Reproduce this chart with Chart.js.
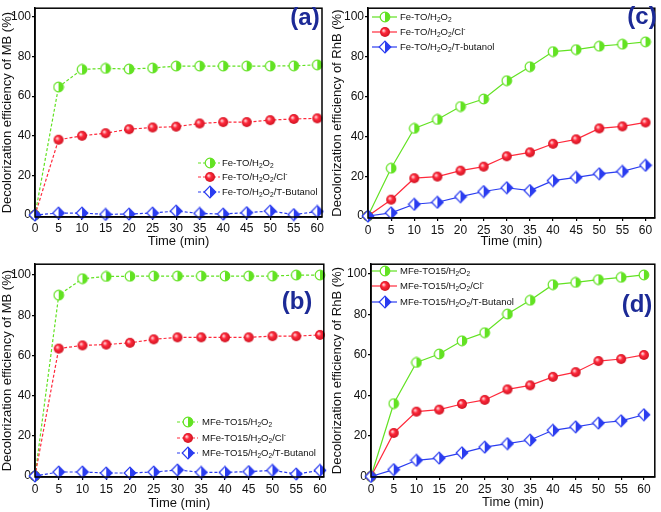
<!DOCTYPE html>
<html>
<head>
<meta charset="utf-8">
<script src="https://cdn.jsdelivr.net/npm/chart.js@4.4.1/dist/chart.umd.min.js"></script>
<style>
body { margin: 0; background: #fff; width: 661px; height: 512px; position: relative; overflow: hidden; }
canvas { position: absolute; }
</style>
</head>
<body>
<canvas id="pa" width="330" height="256" style="left:0;top:0"></canvas>
<canvas id="pc" width="331" height="256" style="left:330px;top:0"></canvas>
<canvas id="pb" width="330" height="256" style="left:0;top:256px"></canvas>
<canvas id="pd" width="331" height="256" style="left:330px;top:256px"></canvas>
<script>
// ---- data ----
const timeMin = [0, 5, 10, 15, 20, 25, 30, 35, 40, 45, 50, 55, 60];
const xTicks = [0, 5, 10, 15, 20, 25, 30, 35, 40, 45, 50, 55, 60];
const yTicks = [0, 20, 40, 60, 80, 100];

// (a) MB, Fe-TO
const mbFeH2O2 = [0, 64.6, 73.5, 74, 73.7, 74.2, 75.2, 75.2, 75.2, 75.2, 75.2, 75.3, 75.8];
const mbFeCl = [0, 38, 40, 41.3, 43.3, 44.2, 44.6, 46.2, 46.9, 46.9, 47.9, 48.5, 48.8];
const mbFeTBu = [0, 1, 1, 0.3, 0.5, 1, 2, 0.8, 0.5, 1.2, 2, 0.2, 1.8];
// (b) MB, MFe-TO15
const mbMFeH2O2 = [0, 90, 98.2, 99.3, 99.4, 99.5, 99.5, 99.5, 99.5, 99.5, 99.5, 100, 100];
const mbMFeCl = [0, 63.4, 65, 65.4, 66.3, 68, 69, 69, 69, 69, 69.6, 69.6, 70.2];
const mbMFeTBu = [0, 2, 2, 1.5, 1.5, 2, 3, 1.8, 1.8, 2.2, 2.8, 1, 2.8];
// (c) RhB, Fe-TO
const rhbFeH2O2 = [0, 24, 44, 48.5, 55, 58.8, 68, 75, 82.6, 83.6, 85.3, 86.3, 87.5];
const rhbFeCl = [0, 8.2, 19, 19.8, 22.8, 24.8, 30, 32, 36.3, 38.5, 44, 45, 47];
const rhbFeTBu = [0, 1.6, 5.9, 6.9, 9.7, 12.3, 14.2, 12.8, 17.8, 19.4, 21.2, 22.4, 25.5];
// (d) RhB, MFe-TO15
const rhbMFeH2O2 = [0, 36, 56.3, 60.5, 67, 71, 80.2, 87, 94.7, 95.8, 97.2, 98.3, 99.5];
const rhbMFeCl = [0, 21.5, 32, 33, 35.8, 37.8, 43, 45, 49.2, 51.5, 57, 58, 60];
const rhbMFeTBu = [0, 3.4, 8, 9.1, 11.7, 14.5, 16.2, 18, 22.8, 24.5, 26.4, 27.5, 30.5];

const labelsFe = ['Fe-TO/H_2O_2', 'Fe-TO/H_2O_2/Cl^-', 'Fe-TO/H_2O_2/T-Butanol'];
const labelsFeRhB = ['Fe-TO/H_2O_2', 'Fe-TO/H_2O_2/Cl^-', 'Fe-TO/H_2O_2/T-butanol'];
const labelsMFe = ['MFe-TO15/H_2O_2', 'MFe-TO15/H_2O_2/Cl^-', 'MFe-TO15/H_2O_2/T-Butanol'];

const GREEN = '#62e222';
const RED = '#ff2a3c';
const BLUE = '#2a3cf0';
const NAVY = '#1c2a96';
const FONT = '"Liberation Sans", Arial, sans-serif';

// ---- marker images ----
function halfCircle(color) {
    const c = document.createElement('canvas');
    c.width = 12; c.height = 12;
    const g = c.getContext('2d');
    g.fillStyle = '#fff';
    g.beginPath(); g.arc(6, 6, 4.8, 0, Math.PI * 2); g.fill();
    g.fillStyle = color;
    g.beginPath(); g.arc(6, 6, 4.8, -Math.PI / 2, Math.PI / 2); g.closePath(); g.fill();
    g.strokeStyle = color; g.lineWidth = 1.2;
    g.beginPath(); g.arc(6, 6, 4.8, 0, Math.PI * 2); g.stroke();
    return c;
}
function ball(color) {
    const c = document.createElement('canvas');
    c.width = 12; c.height = 12;
    const g = c.getContext('2d');
    const grad = g.createRadialGradient(4.5, 4.5, 0.5, 6, 6, 5.5);
    grad.addColorStop(0, '#ffd0d4');
    grad.addColorStop(0.35, color);
    grad.addColorStop(1, '#c8101e');
    g.fillStyle = grad;
    g.beginPath(); g.arc(6, 6, 5, 0, Math.PI * 2); g.fill();
    return c;
}
function halfDiamond(color) {
    const c = document.createElement('canvas');
    c.width = 14; c.height = 14;
    const g = c.getContext('2d');
    const r = 5.8;
    g.fillStyle = '#fff';
    g.beginPath(); g.moveTo(7, 7 - r); g.lineTo(7 + r, 7); g.lineTo(7, 7 + r); g.lineTo(7 - r, 7); g.closePath(); g.fill();
    g.fillStyle = color;
    g.beginPath(); g.moveTo(7, 7 - r); g.lineTo(7 + r, 7); g.lineTo(7, 7 + r); g.closePath(); g.fill();
    g.strokeStyle = color; g.lineWidth = 1.2;
    g.beginPath(); g.moveTo(7, 7 - r); g.lineTo(7 + r, 7); g.lineTo(7, 7 + r); g.lineTo(7 - r, 7); g.closePath(); g.stroke();
    return c;
}
const mGreen = halfCircle(GREEN);
const mRed = ball(RED);
const mBlue = halfDiamond(BLUE);

// draws text with _x subscripts and ^x superscripts
function drawRich(ctx, str, x, y, size) {
    let i = 0;
    ctx.textBaseline = 'middle';
    ctx.textAlign = 'left';
    while (i < str.length) {
        const ch = str[i];
        if ((ch === '_' || ch === '^') && i + 1 < str.length) {
            const s = str[i + 1];
            ctx.font = (size * 0.7).toFixed(1) + 'px ' + FONT;
            ctx.fillText(s, x, y + (ch === '_' ? size * 0.3 : -size * 0.35));
            x += ctx.measureText(s).width;
            i += 2;
        } else {
            ctx.font = size + 'px ' + FONT;
            ctx.fillText(ch, x, y);
            x += ctx.measureText(ch).width;
            i += 1;
        }
    }
}

const decoPlugin = {
    id: 'deco',
    afterDraw(chart, args, opts) {
        const ctx = chart.ctx;
        const a = chart.chartArea;
        ctx.save();
        ctx.strokeStyle = '#000';
        ctx.lineWidth = 1.5;
        ctx.strokeRect(a.left, a.top, a.right - a.left, a.bottom - a.top);

        // panel letter
        ctx.fillStyle = NAVY;
        ctx.font = 'bold 24px ' + FONT;
        ctx.textAlign = 'center';
        ctx.textBaseline = 'middle';
        ctx.fillText(opts.letter, opts.lx, opts.ly);

        // legend, in green / red / blue order
        opts.order.forEach((ds, k) => {
            const y = opts.rows[k];
            ctx.strokeStyle = ds.borderColor;
            ctx.lineWidth = 1.2;
            ctx.setLineDash(ds.borderDash || []);
            ctx.beginPath();
            ctx.moveTo(opts.lineX0, y); ctx.lineTo(opts.lineX1, y);
            ctx.stroke();
            ctx.setLineDash([]);
            const img = ds.pointStyle;
            ctx.drawImage(img, opts.markX - img.width / 2, y - img.height / 2);
            ctx.fillStyle = '#111';
            drawRich(ctx, ds.label, opts.textX, y, 9.5);
        });
        ctx.restore();
    }
};

function pts(arr) {
    return arr.map((v, i) => ({ x: timeMin[i], y: v }));
}

function makePanel(id, series, labels, dashed, yTitle, lay, deco) {
    const markers = [mGreen, mRed, mBlue];
    const colors = [GREEN, RED, BLUE];
    const datasets = series.map((s, k) => ({
        label: labels[k],
        data: pts(s),
        borderColor: colors[k],
        backgroundColor: colors[k],
        borderWidth: 1.2,
        borderDash: dashed ? [3, 2] : [],
        pointStyle: markers[k],
        pointRadius: 5,
        tension: 0,
        clip: false
    }));
    const order = datasets.slice();
    // draw blue first so green/red sit on top
    datasets.reverse();
    new Chart(document.getElementById(id), {
        type: 'line',
        data: { datasets: datasets },
        plugins: [decoPlugin],
        options: {
            responsive: false,
            animation: false,
            layout: { padding: { top: lay.top, right: lay.right, left: 0, bottom: 0 } },
            plugins: {
                legend: { display: false },
                tooltip: { enabled: false },
                deco: Object.assign({}, deco, { order: order })
            },
            scales: {
                x: {
                    type: 'linear',
                    min: lay.xmin, max: lay.xmax,
                    afterBuildTicks: s => { s.ticks = xTicks.map(v => ({ value: v })); },
                    afterFit: s => { s.height = lay.xh; },
                    grid: { drawOnChartArea: false, drawTicks: true, tickLength: 3, color: '#000', lineWidth: 1.2 },
                    border: { color: '#000', width: 1.5 },
                    ticks: { color: '#111', font: { family: FONT, size: 12 }, padding: lay.tp, maxRotation: 0 },
                    title: { display: true, text: 'Time (min)', color: '#111', font: { family: FONT, size: 13 }, padding: { top: 0, bottom: lay.tb } }
                },
                y: {
                    min: lay.ymin, max: lay.ymax,
                    afterBuildTicks: s => { s.ticks = yTicks.map(v => ({ value: v })); },
                    afterFit: s => { s.width = lay.yw; },
                    grid: { drawOnChartArea: false, drawTicks: true, tickLength: 3, color: '#000', lineWidth: 1.2 },
                    border: { color: '#000', width: 1.5 },
                    ticks: { color: '#111', font: { family: FONT, size: 12 }, padding: 1 },
                    title: { display: true, text: yTitle, color: '#111', font: { family: FONT, size: 13 }, padding: { bottom: 0, top: 0 } }
                }
            }
        }
    });
}

makePanel('pa', [mbFeH2O2, mbFeCl, mbFeTBu], labelsFe, true, 'Decolorization efficiency of MB (%)',
    { top: 2, right: 8, xh: 39, tp: 1, tb: 7, yw: 35, xmin: 0, xmax: 61, ymin: -1, ymax: 104.4 },
    { letter: '(a)', lx: 305, ly: 18, rows: [163, 177, 192], lineX0: 198, lineX1: 220, markX: 210, textX: 222 });

makePanel('pc', [rhbFeH2O2, rhbFeCl, rhbFeTBu], labelsFeRhB, false, 'Decolorization efficiency of RhB (%)',
    { top: 4, right: 1, xh: 38, tp: 2, tb: 6.5, yw: 38, xmin: 0, xmax: 62, ymin: -1, ymax: 104.4 },
    { letter: '(c)', lx: 312, ly: 17, rows: [17, 32, 47], lineX0: 42, lineX1: 67, markX: 55, textX: 70 });

makePanel('pb', [mbMFeH2O2, mbMFeCl, mbMFeTBu], labelsMFe, true, 'Decolorization efficiency of MB (%)',
    { top: 5, right: 5, xh: 35, tp: 2, tb: 1, yw: 35, xmin: 0, xmax: 60.8, ymin: -0.5, ymax: 105.4 },
    { letter: '(b)', lx: 297, ly: 46, rows: [166, 182, 197], lineX0: 177, lineX1: 198, markX: 188, textX: 202 });

makePanel('pd', [rhbMFeH2O2, rhbMFeCl, rhbMFeTBu], labelsMFe, false, 'Decolorization efficiency of RhB (%)',
    { top: 4, right: 3, xh: 35, tp: 2, tb: 1.5, yw: 41, xmin: 0, xmax: 62.4, ymin: -0.25, ymax: 104.8 },
    { letter: '(d)', lx: 307, ly: 49, rows: [15, 30, 46], lineX0: 42, lineX1: 67, markX: 55, textX: 70 });
</script>
</body>
</html>
